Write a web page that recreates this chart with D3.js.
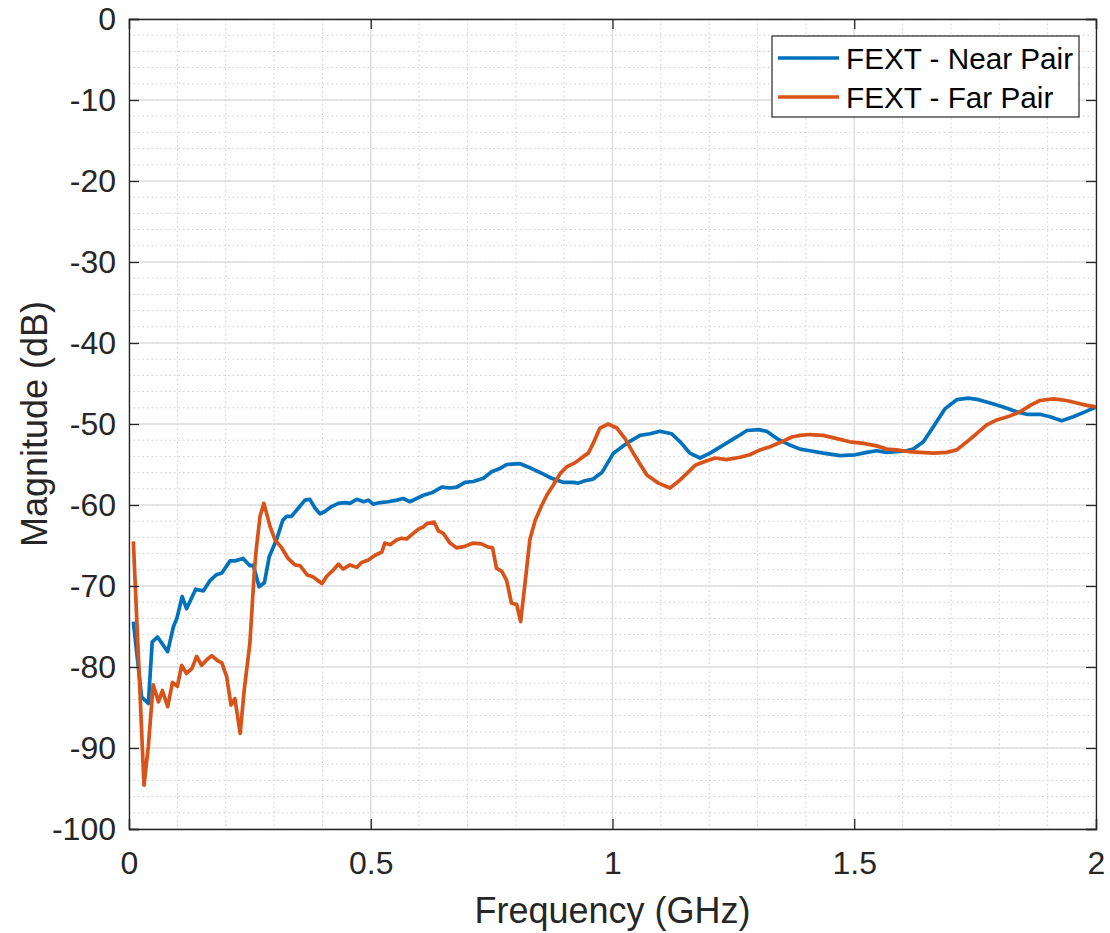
<!DOCTYPE html>
<html>
<head>
<meta charset="utf-8">
<script src="https://cdn.jsdelivr.net/npm/d3@7"></script>
<style>
  html, body { margin: 0; padding: 0; background: #fff; }
  svg { display: block; font-family: "Liberation Sans", Arial, Helvetica, sans-serif; }
</style>
</head>
<body>
<svg id="chart" width="1110" height="933"></svg>
<script>
const xTicks = [0, 0.5, 1, 1.5, 2];
const xTickLabels = ["0", "0.5", "1", "1.5", "2"];
const yTicks = [0, -10, -20, -30, -40, -50, -60, -70, -80, -90, -100];
const yTickLabels = ["0", "-10", "-20", "-30", "-40", "-50", "-60", "-70", "-80", "-90", "-100"];
const seriesNames = ["FEXT - Near Pair", "FEXT - Far Pair"];

const nearFreq = [0.009,0.026,0.04,0.048,0.059,0.08,0.092,0.099,0.110,0.119,0.138,0.154,0.168,0.181,0.192,0.209,0.219,0.236,0.250,0.257,0.269,0.280,0.290,0.305,0.318,0.326,0.336,0.350,0.364,0.374,0.385,0.395,0.405,0.419,0.433,0.447,0.457,0.471,0.485,0.495,0.505,0.519,0.536,0.554,0.567,0.581,0.595,0.609,0.626,0.647,0.664,0.678,0.695,0.712,0.733,0.750,0.767,0.781,0.809,0.833,0.854,0.874,0.898,0.919,0.929,0.943,0.960,0.978,1.002,1.029,1.057,1.078,1.098,1.122,1.140,1.160,1.181,1.202,1.229,1.257,1.278,1.302,1.319,1.340,1.367,1.388,1.408,1.436,1.471,1.502,1.526,1.546,1.567,1.588,1.608,1.622,1.643,1.664,1.688,1.712,1.736,1.757,1.781,1.808,1.836,1.857,1.884,1.905,1.929,1.953,1.977,2.0];
const nearMag = [-74.4,-83.7,-84.5,-76.9,-76.3,-78.1,-75.0,-74.0,-71.3,-72.8,-70.4,-70.6,-69.3,-68.6,-68.4,-66.9,-66.9,-66.6,-67.5,-67.4,-70.1,-69.6,-66.4,-64.3,-61.9,-61.4,-61.4,-60.4,-59.4,-59.3,-60.4,-61.1,-60.8,-60.2,-59.8,-59.7,-59.8,-59.3,-59.6,-59.4,-59.9,-59.7,-59.6,-59.4,-59.2,-59.6,-59.2,-58.8,-58.5,-57.8,-57.9,-57.8,-57.2,-57.1,-56.7,-55.9,-55.5,-55.0,-54.9,-55.5,-56.1,-56.7,-57.2,-57.2,-57.3,-57.0,-56.8,-56.0,-53.6,-52.4,-51.4,-51.2,-50.9,-51.2,-52.2,-53.6,-54.2,-53.6,-52.6,-51.6,-50.8,-50.7,-50.9,-51.8,-52.6,-53.1,-53.3,-53.6,-53.9,-53.8,-53.5,-53.3,-53.5,-53.4,-53.3,-53.1,-52.2,-50.3,-48.1,-47.0,-46.8,-47.0,-47.4,-47.9,-48.5,-48.8,-48.8,-49.1,-49.6,-49.1,-48.5,-47.9];

const farFreq = [0.009,0.021,0.031,0.040,0.050,0.061,0.069,0.080,0.090,0.100,0.109,0.119,0.130,0.140,0.150,0.161,0.171,0.183,0.192,0.202,0.211,0.219,0.230,0.238,0.250,0.259,0.263,0.271,0.279,0.292,0.302,0.316,0.329,0.343,0.354,0.368,0.381,0.399,0.409,0.423,0.433,0.443,0.457,0.471,0.481,0.495,0.509,0.523,0.529,0.540,0.554,0.564,0.574,0.588,0.598,0.609,0.616,0.631,0.640,0.650,0.664,0.678,0.695,0.712,0.729,0.743,0.752,0.760,0.771,0.781,0.791,0.802,0.810,0.819,0.829,0.840,0.854,0.864,0.878,0.892,0.905,0.922,0.940,0.950,0.960,0.974,0.991,1.009,1.026,1.043,1.071,1.095,1.119,1.140,1.171,1.188,1.212,1.236,1.264,1.284,1.305,1.326,1.350,1.371,1.388,1.408,1.436,1.464,1.491,1.519,1.546,1.567,1.588,1.612,1.636,1.664,1.691,1.712,1.733,1.753,1.774,1.795,1.822,1.843,1.864,1.884,1.912,1.939,1.960,1.981,2.0];
const farMag = [-64.5,-80.8,-94.6,-89.8,-82.2,-84.3,-82.9,-84.9,-81.9,-82.4,-79.8,-80.8,-80.2,-78.7,-79.8,-79.1,-78.6,-79.2,-79.5,-81.2,-84.7,-83.9,-88.2,-83.0,-77.1,-68.4,-65.6,-61.4,-59.8,-62.7,-64.3,-65.3,-66.6,-67.4,-67.5,-68.6,-68.9,-69.7,-68.8,-68.0,-67.3,-67.9,-67.4,-67.7,-67.1,-66.8,-66.2,-65.8,-64.7,-64.9,-64.3,-64.1,-64.2,-63.5,-63.0,-62.7,-62.3,-62.1,-63.2,-63.5,-64.7,-65.3,-65.1,-64.7,-64.8,-65.2,-65.3,-67.8,-68.2,-69.3,-72.1,-72.3,-74.4,-69.7,-64.3,-61.9,-60.0,-58.8,-57.5,-56.1,-55.3,-54.8,-54.0,-53.6,-52.4,-50.5,-50.0,-50.5,-51.8,-53.6,-56.3,-57.3,-57.9,-56.9,-55.1,-54.7,-54.2,-54.4,-54.1,-53.8,-53.2,-52.8,-52.2,-51.6,-51.4,-51.3,-51.4,-51.8,-52.2,-52.4,-52.7,-53.1,-53.2,-53.4,-53.5,-53.6,-53.5,-53.2,-52.2,-51.2,-50.1,-49.5,-49.0,-48.5,-47.7,-47.1,-46.9,-47.1,-47.4,-47.7,-47.9];

const colors = ["#0072BD", "#D95319"];
const textColor = "#262626";

const L = 129, T = 19, R = 1096, B = 829;
const svg = d3.select("#chart");
const x = d3.scaleLinear().domain([0, 2]).range([L, R]);
const y = d3.scaleLinear().domain([-100, 0]).range([B, T]);

// minor grid
const minorX = d3.range(0, 2.0001, 0.1);
const minorY = d3.range(-100, 0.0001, 2);
svg.append("g").selectAll("line").data(minorX).join("line")
  .attr("x1", d => x(d)).attr("x2", d => x(d)).attr("y1", T).attr("y2", B)
  .attr("stroke", "#cccccc").attr("stroke-width", 1).attr("stroke-dasharray", "1.5,3");
svg.append("g").selectAll("line").data(minorY).join("line")
  .attr("y1", d => y(d)).attr("y2", d => y(d)).attr("x1", L).attr("x2", R)
  .attr("stroke", "#cccccc").attr("stroke-width", 1).attr("stroke-dasharray", "1.5,3");
// major grid
svg.append("g").selectAll("line").data(xTicks).join("line")
  .attr("x1", d => x(d)).attr("x2", d => x(d)).attr("y1", T).attr("y2", B)
  .attr("stroke", "#dedede").attr("stroke-width", 1.4);
svg.append("g").selectAll("line").data(yTicks).join("line")
  .attr("y1", d => y(d)).attr("y2", d => y(d)).attr("x1", L).attr("x2", R)
  .attr("stroke", "#dedede").attr("stroke-width", 1.4);

// lines
svg.append("defs").append("clipPath").attr("id", "clip")
  .append("rect").attr("x", L).attr("y", T).attr("width", R - L).attr("height", B - T);
const line = d3.line().x(d => x(d[0])).y(d => y(d[1]));
const nearData = nearFreq.map((f, i) => [f, nearMag[i]]);
const farData = farFreq.map((f, i) => [f, farMag[i]]);
const plotG = svg.append("g").attr("clip-path", "url(#clip)");
plotG.append("path").datum(nearData).attr("d", line)
  .attr("fill", "none").attr("stroke", colors[0]).attr("stroke-width", 3.7).attr("stroke-linejoin", "round");
plotG.append("path").datum(farData).attr("d", line)
  .attr("fill", "none").attr("stroke", colors[1]).attr("stroke-width", 3.7).attr("stroke-linejoin", "round");

// axes (ticks inward)
const tickLen = 10;
const xAxisB = d3.axisBottom(x).tickValues(xTicks).tickSize(-tickLen).tickFormat((d, i) => xTickLabels[i]).tickPadding(22);
const xAxisT = d3.axisTop(x).tickValues(xTicks).tickSize(-tickLen).tickFormat("");
const yAxisL = d3.axisLeft(y).tickValues(yTicks).tickSize(-tickLen).tickFormat((d, i) => yTickLabels[i]).tickPadding(13);
const yAxisR = d3.axisRight(y).tickValues(yTicks).tickSize(-tickLen).tickFormat("");

function style(g) {
  g.select(".domain").attr("stroke", textColor).attr("stroke-width", 1.3);
  g.selectAll(".tick line").attr("stroke", textColor).attr("stroke-width", 1.3);
  g.selectAll(".tick text").attr("fill", textColor).style("font-size", "32px");
}
svg.append("g").attr("transform", `translate(0,${B})`).call(xAxisB).call(style);
svg.append("g").attr("transform", `translate(0,${T})`).call(xAxisT).call(style);
svg.append("g").attr("transform", `translate(${L},0)`).call(yAxisL).call(style);
svg.append("g").attr("transform", `translate(${R},0)`).call(yAxisR).call(style);

// axis labels
svg.append("text").attr("x", (L + R) / 2).attr("y", 923).attr("text-anchor", "middle")
  .attr("fill", textColor).style("font-size", "36px").text("Frequency (GHz)");
svg.append("text").attr("transform", `translate(47,${(T + B) / 2}) rotate(-90)`).attr("text-anchor", "middle")
  .attr("fill", textColor).style("font-size", "36px").text("Magnitude (dB)");

// legend
const lg = svg.append("g");
lg.append("rect").attr("x", 772).attr("y", 36).attr("width", 307).attr("height", 81)
  .attr("fill", "#fff").attr("stroke", textColor).attr("stroke-width", 1.2);
const legY = [58, 97];
seriesNames.forEach((name, i) => {
  lg.append("line").attr("x1", 778).attr("x2", 839).attr("y1", legY[i]).attr("y2", legY[i])
    .attr("stroke", colors[i]).attr("stroke-width", 3.7);
  lg.append("text").attr("x", 846).attr("y", legY[i]).attr("dy", "0.36em")
    .attr("fill", "#000").style("font-size", "29.7px").text(name);
});
</script>
</body>
</html>
